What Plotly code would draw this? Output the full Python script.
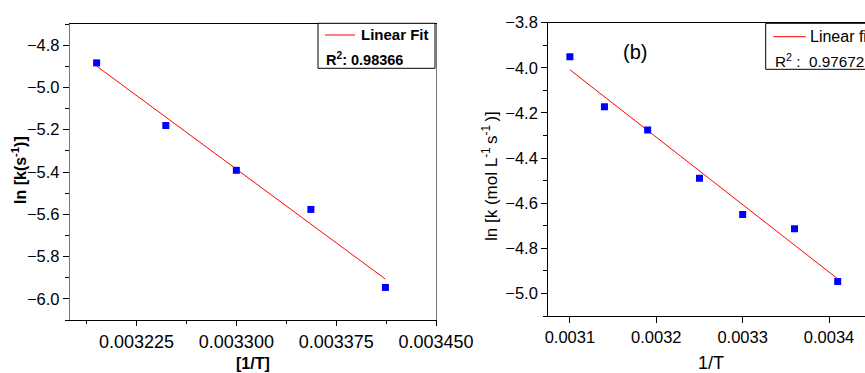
import numpy as np
import plotly.graph_objects as go

W, H = 865, 373
FONT = "Liberation Sans, Arial, sans-serif"

# ---- data: panel (a) ----
a_invT = [0.003195, 0.003247, 0.003300, 0.003356, 0.003412]
a_lnk = [-4.884, -5.180, -5.392, -5.577, -5.946]
a_r2_label = "R<sup>2</sup>: 0.98366"
a_xticks = [0.003225, 0.003300, 0.003375, 0.003450]
a_xticktext = ["0.003225", "0.003300", "0.003375", "0.003450"]
a_xminor = [0.0031875, 0.0032625, 0.0033375, 0.0034125]

# ---- data: panel (b) ----
b_invT = [0.00310, 0.00314, 0.00319, 0.00325, 0.00330, 0.00336, 0.00341]
b_lnk = [-3.951, -4.172, -4.276, -4.490, -4.650, -4.713, -4.947]
b_r2_label = "R<sup>2</sup> :  0.97672"

# linear fits from the data
def fit(x, y):
    m, c = np.polyfit(x, y, 1)
    xs = np.array([min(x), max(x)])
    return xs, m * xs + c

a_fx, a_fy = fit(a_invT, a_lnk)
b_fx, b_fy = fit(b_invT, b_lnk)

def px_x(p):
    return p / W

def px_y(p):
    return 1 - p / H

fig = go.Figure()
fig.add_trace(go.Scatter(x=a_fx, y=a_fy, mode="lines", line=dict(color="#ff0000", width=1),
                         xaxis="x", yaxis="y", showlegend=False))
fig.add_trace(go.Scatter(x=a_invT, y=a_lnk, mode="markers",
                         marker=dict(symbol="square", size=7, color="#0000ff"),
                         xaxis="x", yaxis="y", showlegend=False))
fig.add_trace(go.Scatter(x=b_fx, y=b_fy, mode="lines", line=dict(color="#ff0000", width=1),
                         xaxis="x2", yaxis="y2", showlegend=False))
fig.add_trace(go.Scatter(x=b_invT, y=b_lnk, mode="markers",
                         marker=dict(symbol="square", size=7, color="#0000ff"),
                         xaxis="x2", yaxis="y2", showlegend=False))

axis_common = dict(showgrid=False, zeroline=False, ticks="outside", tickcolor="#000",
                   showline=True, linewidth=1.3, automargin=False)

fig.update_layout(
    width=W, height=H,
    margin=dict(l=0, r=0, t=0, b=0, autoexpand=False),
    paper_bgcolor="white", plot_bgcolor="white",
    font=dict(family=FONT, color="#000"),
    xaxis=dict(**axis_common, domain=[px_x(70), px_x(436)], range=[0.003175, 0.00345],
               tickmode="array", tickvals=a_xticks, ticktext=a_xticktext,
               ticklen=5, tickfont=dict(size=18), linecolor="#000", mirror=True,
               minor=dict(tickvals=a_xminor, ticks="outside", ticklen=3, tickcolor="#000"),
               anchor="y"),
    yaxis=dict(**axis_common, domain=[px_y(320), px_y(24)], range=[-6.1, -4.7],
               tick0=-6.0, dtick=0.2, tickformat=".1f", ticklen=6,
               tickfont=dict(size=16.5), linecolor="#777", mirror=True,
               minor=dict(dtick=0.1, ticks="outside", ticklen=4, tickcolor="#000"),
               anchor="x"),
    xaxis2=dict(**axis_common, domain=[px_x(548.3), 1.0], range=[0.003075, 0.0034416],
                tick0=0.0031, dtick=0.0001, tickformat=".4f", ticklen=6,
                tickfont=dict(size=16.5), linecolor="#000", mirror=True, anchor="y2"),
    yaxis2=dict(**axis_common, domain=[px_y(316), px_y(22.7)], range=[-5.1, -3.8],
                tick0=-5.0, dtick=0.2, tickformat=".1f", ticklen=6,
                tickfont=dict(size=16.5), linecolor="#000", mirror=False,
                minor=dict(dtick=0.1, ticks="outside", ticklen=4, tickcolor="#000"),
                anchor="x2"),
)

ann = []
# axis titles
ann.append(dict(text="<b>ln [k(s<sup>-1</sup>)]</b>", x=px_x(19), y=px_y(170), textangle=-90,
                font=dict(size=16)))
ann.append(dict(text="<b>[1/T]</b>", x=px_x(252.5), y=px_y(363), font=dict(size=16)))
ann.append(dict(text="ln [k (mol L<sup>-1 </sup>s<sup>-1 </sup>)]", x=px_x(490), y=px_y(176),
                textangle=-90, font=dict(size=17)))
ann.append(dict(text="1/T", x=px_x(711), y=px_y(363), font=dict(size=18)))
# panel label
ann.append(dict(text="(b)", x=px_x(635), y=px_y(51.7), font=dict(size=20)))
# legend texts
ann.append(dict(text="<b>Linear Fit</b>", x=px_x(359), y=px_y(35), xanchor="left",
                font=dict(size=15)))
ann.append(dict(text="<b>" + a_r2_label + "</b>", x=px_x(324), y=px_y(59), xanchor="left",
                font=dict(size=14.5)))
ann.append(dict(text="Linear fit", x=px_x(807.5), y=px_y(36.7), xanchor="left",
                font=dict(size=16)))
ann.append(dict(text=b_r2_label, x=px_x(773), y=px_y(60), xanchor="left",
                font=dict(size=15.3)))
for a in ann:
    a.update(xref="paper", yref="paper", showarrow=False)
    a.setdefault("xanchor", "center")
    a["yanchor"] = "middle"
fig.update_layout(annotations=ann)

shapes = [
    # legend (a) box
    dict(type="rect", x0=px_x(318), x1=px_x(435), y0=px_y(68.3), y1=px_y(23.3),
         line=dict(color="#000", width=1), fillcolor="white", layer="above"),
    dict(type="line", x0=px_x(325), x1=px_x(355), y0=px_y(35), y1=px_y(35),
         line=dict(color="#ff0000", width=1)),
    # legend (b) box, running off the right edge
    dict(type="path",
         path="M %f,%f L %f,%f L %f,%f L %f,%f" % (px_x(866), px_y(23.3), px_x(765.7), px_y(23.3),
                                                 px_x(765.7), px_y(69.3), px_x(866), px_y(69.3)),
         line=dict(color="#000", width=1), fillcolor="rgba(0,0,0,0)"),
    dict(type="line", x0=px_x(773.3), x1=px_x(805.7), y0=px_y(36.7), y1=px_y(36.7),
         line=dict(color="#ff0000", width=1)),
]
for s in shapes:
    s["xref"] = "paper"
    s["yref"] = "paper"
fig.update_layout(shapes=shapes)

fig.write_html("out.html", config={"displayModeBar": False},
               post_script="document.body.style.margin='0';document.body.style.overflow='hidden';")
